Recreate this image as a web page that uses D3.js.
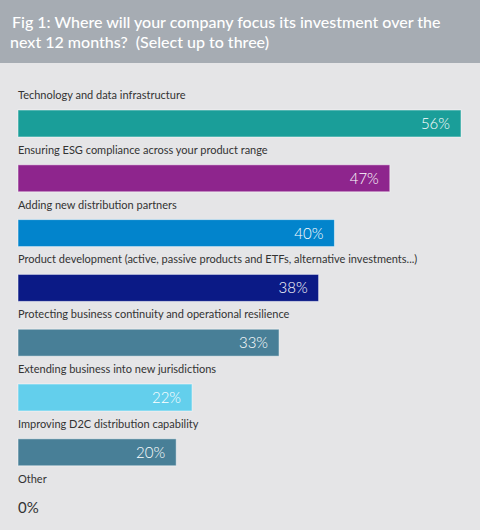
<!DOCTYPE html>
<html>
  <head>
    <meta charset="utf-8">
    <script src="https://cdn.jsdelivr.net/npm/d3@7"></script>
    <style>
     body { margin: 0; background: #e5e5e7; }
     svg { display: block; font-family: Lato, "Open Sans", sans-serif; }
     .title { fill: #fff; font-size: 16px; font-weight: 500; white-space: pre; }
     .label { fill: #333; font-size: 11px; }
     .value { fill: #fff; font-size: 15px; font-weight: 300; }
    </style>
  </head>
  <body>
    <svg id="chart"></svg>
    <script>
     var categories = [
       "Technology and data infrastructure",
       "Ensuring ESG compliance across your product range",
       "Adding new distribution partners",
       "Product development (active, passive products and ETFs, alternative investments...)",
       "Protecting business continuity and operational resilience",
       "Extending business into new jurisdictions",
       "Improving D2C distribution capability",
       "Other"
     ];
     var values = [56, 47, 40, 38, 33, 22, 20, 0];
     var colors = ["#1a9e99", "#8e258d", "#0284cc", "#0b1a86", "#487f97", "#63cfec", "#487f97", "#487f97"];
     var titleLines = [
       "Fig 1: Where will your company focus its investment over the",
       "next 12 months?  (Select up to three)"
     ];

     var width = 480, height = 530;
     var svg = d3.select("#chart").attr("width", width).attr("height", height);

     svg.append("rect").attr("width", width).attr("height", height).attr("fill", "#e5e5e7");
     svg.append("rect").attr("width", width).attr("height", 63).attr("fill", "#a6acb3");

     svg.selectAll(".title")
        .data(titleLines)
        .enter().append("text")
        .attr("class", "title")
        .attr("x", function(d, i) { return i ? 10 : 12; })
        .attr("y", function(d, i) { return 28 + i * 20; })
        .text(function(d) { return d; });

     var x = d3.scaleLinear().domain([0, 56]).range([18, 461]);
     var y = d3.scaleBand().domain(categories).range([82, 82 + 8 * 54.8]);

     var row = svg.selectAll(".row")
                  .data(categories)
                  .enter().append("g")
                  .attr("class", "row")
                  .attr("transform", function(d) { return "translate(0," + y(d) + ")"; });

     row.append("text")
        .attr("class", "label")
        .attr("x", 18)
        .attr("y", 17)
        .text(function(d) { return d; });

     row.filter(function(d, i) { return values[i] > 0; })
        .append("rect")
        .attr("x", x(0))
        .attr("y", 28)
        .attr("height", 27)
        .attr("width", function(d) { return x(values[categories.indexOf(d)]) - x(0); })
        .attr("fill", function(d) { return colors[categories.indexOf(d)]; })
        .attr("stroke", "rgba(255,255,255,0.5)")
        .attr("stroke-width", 1);

     row.append("text")
        .attr("class", "value")
        .attr("x", function(d) {
          var v = values[categories.indexOf(d)];
          return v > 0 ? x(v) - 11 : x(0);
        })
        .attr("y", 47)
        .attr("text-anchor", function(d) { return values[categories.indexOf(d)] > 0 ? "end" : "start"; })
        .style("fill", function(d) { return values[categories.indexOf(d)] > 0 ? "#fff" : "#333"; })
        .style("font-weight", function(d) { return values[categories.indexOf(d)] > 0 ? 300 : 400; })
        .text(function(d) { return values[categories.indexOf(d)] + "%"; });
    </script>
  </body>
</html>
